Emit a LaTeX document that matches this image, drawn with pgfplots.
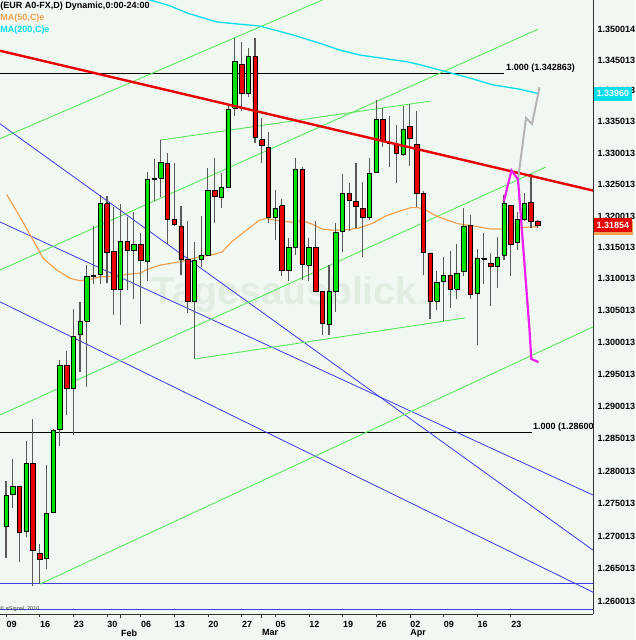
\documentclass[border=0pt]{standalone}
\usepackage{pgfplots}
\pgfplotsset{compat=1.18}
\usepackage{pgfplotstable}
\usepackage{fontspec}
\setmainfont{Liberation Sans}
\definecolor{bgc}{RGB}{241,248,241}
\definecolor{cgreen}{RGB}{0,225,0}
\definecolor{cred}{RGB}{232,0,0}
\definecolor{tgreen}{RGB}{90,232,90}
\definecolor{tblue}{RGB}{60,60,228}
\definecolor{macyan}{RGB}{0,222,236}
\definecolor{maorange}{RGB}{242,162,82}
\definecolor{magn}{RGB}{240,30,240}
\definecolor{projgrey}{RGB}{180,180,180}
\definecolor{wmark}{RGB}{226,237,226}
\pgfplotsset{
  wick/.style={black!65, line width=1.1pt},
  body/.style={draw=black, line width=0.5pt},
}
\pgfplotstableread{
j O H L C
0 1.2715 1.2785 1.2667 1.2763
1 1.2764 1.2818 1.2743 1.2777
2 1.2776 1.2777 1.2661 1.2706
3 1.2708 1.2846 1.2699 1.2812
4 1.2812 1.2880 1.2624 1.2679
5 1.2673 1.2688 1.2627 1.2665
6 1.2666 1.2809 1.2650 1.2735
7 1.2736 1.2866 1.2736 1.2863
8 1.2864 1.2973 1.2839 1.2965
9 1.2965 1.2986 1.2887 1.2928
10 1.2928 1.3052 1.2856 1.3010
11 1.3013 1.3064 1.2954 1.3033
12 1.3034 1.3122 1.2931 1.3105
13 1.3105 1.3184 1.3092 1.3106
14 1.3108 1.3233 1.3092 1.3219
15 1.3219 1.3232 1.3093 1.3143
16 1.3144 1.3214 1.3043 1.3084
17 1.3084 1.3219 1.3027 1.3159
18 1.3159 1.3198 1.3083 1.3145
19 1.3145 1.3205 1.3068 1.3155
20 1.3155 1.3172 1.3029 1.3130
21 1.3128 1.3270 1.3097 1.3259
22 1.3259 1.3290 1.3223 1.3260
23 1.3260 1.3321 1.3230 1.3285
24 1.3284 1.3300 1.3156 1.3194
25 1.3194 1.3285 1.3184 1.3187
26 1.3184 1.3216 1.3106 1.3131
27 1.3131 1.3191 1.3046 1.3065
28 1.3065 1.3159 1.2974 1.3130
29 1.3132 1.3199 1.3119 1.3138
30 1.3138 1.3277 1.3136 1.3240
31 1.3240 1.3292 1.3189 1.3231
32 1.3230 1.3268 1.3213 1.3246
33 1.3246 1.3376 1.3244 1.3371
34 1.3372 1.3486 1.3359 1.3449
35 1.3443 1.3480 1.3368 1.3397
36 1.3397 1.3470 1.3391 1.3457
37 1.3456 1.3485 1.3316 1.3325
38 1.3322 1.3356 1.3284 1.3312
39 1.3310 1.3334 1.3188 1.3197
40 1.3197 1.3241 1.3162 1.3212
41 1.3216 1.3227 1.3104 1.3113
42 1.3113 1.3164 1.3097 1.3149
43 1.3149 1.3292 1.3138 1.3275
44 1.3275 1.3278 1.3098 1.3123
45 1.3122 1.3164 1.3096 1.3149
46 1.3149 1.3191 1.3080 1.3081
47 1.3080 1.3081 1.3012 1.3030
48 1.3029 1.3122 1.3012 1.3081
49 1.3080 1.3188 1.3048 1.3173
50 1.3175 1.3266 1.3143 1.3236
51 1.3236 1.3252 1.3175 1.3224
52 1.3223 1.3285 1.3180 1.3215
53 1.3212 1.3254 1.3135 1.3198
54 1.3198 1.3293 1.3193 1.3268
55 1.3270 1.3386 1.3269 1.3355
56 1.3355 1.3373 1.3310 1.3320
57 1.3318 1.3359 1.3278 1.3315
58 1.3314 1.3345 1.3253 1.3300
59 1.3299 1.3376 1.3295 1.3338
60 1.3343 1.3379 1.3280 1.3324
61 1.3314 1.3368 1.3215 1.3236
62 1.3236 1.3239 1.3107 1.3142
63 1.3141 1.3141 1.3036 1.3064
64 1.3065 1.3113 1.3051 1.3095
65 1.3096 1.3134 1.3034 1.3106
66 1.3106 1.3145 1.3055 1.3084
67 1.3084 1.3156 1.3068 1.3109
68 1.3112 1.3212 1.3104 1.3184
69 1.3185 1.3201 1.3069 1.3076
70 1.3077 1.3147 1.2996 1.3133
71 1.3132 1.3172 1.3092 1.3133
72 1.3125 1.3141 1.3058 1.3121
73 1.3121 1.3167 1.3085 1.3135
74 1.3137 1.3233 1.3130 1.3220
75 1.3217 1.3217 1.3105 1.3155
76 1.3158 1.3207 1.3146 1.3194
77 1.3194 1.3236 1.3192 1.3220
78 1.3222 1.3266 1.3180 1.3192
79 1.3192 1.3193 1.3180 1.31854
}\candles
\begin{document}
\begin{tikzpicture}
\path[use as bounding box] (0,-26pt) rectangle (635pt,614pt);
\fill[bgc] (0,-26pt) rectangle (635pt,614pt);
\begin{axis}[
  scale only axis, width=593pt, height=614pt,
  xmin=-0.892, xmax=87.22,
  ymode=log, ymin=1.25815, ymax=1.35479,
  axis x line=bottom, axis y line=right,
  axis line style={-, black!80, line width=0.8pt},
  tick align=outside, major tick length=3pt,
  xtick={0,5,10,15,20,25,30,35,40,45,50,55,60,65,70,75},
  xticklabels={09,16,23,30,06,13,20,27,05,12,19,26,02,09,16,23},
  extra x ticks={17.04,38.0,60.0},
  extra x tick labels={Feb,Mar,Apr},
  extra x tick style={major tick length=5pt, xticklabel style={yshift=-7pt}},
  xtick style={draw=black!80, line width=0.6pt},
  xticklabel style={font=\bfseries\fontsize{9}{9}\selectfont, anchor=north west, inner sep=0pt, xshift=0.3pt, yshift=-4pt},
  ytick={1.350014,1.345013,1.340013,1.335013,1.330013,1.325013,1.320013,1.315013,1.310013,1.305013,1.300013,1.295013,1.290013,1.285013,1.280013,1.275013,1.270013,1.265013,1.260013},
  yticklabels={1.350014,1.345013,1.340013,1.335013,1.330013,1.325013,1.320013,1.315013,1.310013,1.305013,1.300013,1.295013,1.290013,1.285013,1.280013,1.275013,1.270013,1.265013,1.260013},
  minor y tick num=0,
  ytick style={draw=none},
  yticklabel style={font=\bfseries\fontsize{9}{9}\selectfont, anchor=west, inner sep=0pt, xshift=1.5pt},
  clip=true,
]
% watermark
\node[anchor=base west, inner sep=0pt, text=wmark, font=\bfseries\fontsize{39}{39}\selectfont] at (axis cs:21.55,1.3059) {Tagesausblick{\fontsize{8}{8}\selectfont .de}};
% horizontal lines
\addplot[black, line width=0.8pt] coordinates {(-0.892,1.342863) (74.0,1.342863)};
\addplot[black, line width=0.8pt] coordinates {(-0.892,1.2860) (78.16,1.2860)};
\addplot[tblue, line width=0.9pt] coordinates {(-0.892,1.26282) (87.22,1.26282)};
\addplot[tblue, line width=0.9pt] coordinates {(-0.892,1.25886) (87.22,1.25886)};
% blue trend lines
\addplot[tblue, line width=0.8pt] coordinates {(-0.892,1.33470) (87.22,1.26789)};
\addplot[tblue, line width=0.8pt] coordinates {(-0.892,1.31902) (87.22,1.27632)};
\addplot[tblue, line width=0.8pt] coordinates {(-0.892,1.30637) (87.22,1.26148)};
% green trend lines
\addplot[tgreen, line width=0.9pt] coordinates {(-0.892,1.33228) (49.6,1.35601)};
\addplot[tgreen, line width=0.9pt] coordinates {(-0.892,1.31142) (79.05,1.3500)};
\addplot[tgreen, line width=0.9pt] coordinates {(-0.892,1.28869) (80.24,1.32780)};
\addplot[tgreen, line width=0.9pt] coordinates {(5.05,1.26270) (87.22,1.30243)};
\addplot[tgreen, line width=0.9pt] coordinates {(28.08,1.29742) (68.2,1.30384)};
\addplot[tgreen, line width=0.9pt] coordinates {(23.03,1.33212) (63.0,1.33840)};
% moving averages
\addplot[macyan, line width=1.3pt] coordinates {(16.9,1.35577) (21.4,1.35479) (24.4,1.35381) (26.9,1.35267) (31.35,1.35120) (37.7,1.35055) (42.6,1.34909) (46.7,1.34774) (49.6,1.34665) (52.6,1.34584) (55.6,1.34530) (59.6,1.34475) (61.5,1.34422) (65.5,1.34314) (68.5,1.34223) (72.4,1.34099) (76.4,1.34030) (79.1,1.33960)};
\addplot[maorange, line width=1.2pt] coordinates {(0.1,1.3234) (2.08,1.3198) (3.57,1.3170) (5.5,1.3133) (7.53,1.3114) (9.51,1.3101) (11.0,1.3097) (12.48,1.3099) (13.97,1.3103) (15.9,1.3104) (16.94,1.3106) (19.91,1.3109) (20.95,1.3115) (22.88,1.3122) (25.85,1.3127) (28.83,1.3135) (30.6,1.3138) (32.1,1.3143) (33.58,1.3159) (35.5,1.3175) (37.6,1.3193) (38.6,1.3196) (40.6,1.3192) (42.5,1.3190) (43.98,1.3192) (45.47,1.3187) (46.95,1.3179) (48.6,1.3177) (50.4,1.3178) (52.3,1.3180) (54.4,1.3188) (56.3,1.3199) (58.25,1.3207) (60.2,1.3213) (61.2,1.3213) (62.1,1.3211) (64.04,1.3199) (67.0,1.3188) (70.0,1.3183) (72.07,1.3179) (75.04,1.3179) (77.0,1.3182) (79.05,1.3183)};
% candles
\pgfplotsforeachungrouped \i in {0,...,79}{%
  \pgfplotstablegetelem{\i}{j}\of\candles \let\cj\pgfplotsretval
  \pgfplotstablegetelem{\i}{O}\of\candles \let\co\pgfplotsretval
  \pgfplotstablegetelem{\i}{H}\of\candles \let\ch\pgfplotsretval
  \pgfplotstablegetelem{\i}{L}\of\candles \let\cl\pgfplotsretval
  \pgfplotstablegetelem{\i}{C}\of\candles \let\cc\pgfplotsretval
  \pgfmathsetmacro\xa{\cj-0.33}%
  \pgfmathsetmacro\xb{\cj+0.33}%
  \ifdim\cc pt<\co pt \def\bcol{cred}\else\def\bcol{cgreen}\fi
  \edef\temp{%
    \noexpand\addplot[wick] coordinates {(\cj,\cl) (\cj,\ch)};
    \noexpand\addplot[body, fill=\bcol] coordinates {(\xa,\co) (\xb,\co) (\xb,\cc) (\xa,\cc) (\xa,\co)};
  }\temp
}
% red resistance line
\addplot[cred, line width=2.4pt] coordinates {(-0.892,1.34655) (87.22,1.32402)};
% projections
\addplot[projgrey, line width=2pt] coordinates {(76.08,1.32580) (77.27,1.33566) (78.16,1.33470) (79.27,1.34057)};
\addplot[magn, line width=2.2pt] coordinates {(74.0,1.32237) (75.11,1.32721) (76.08,1.32580) (77.79,1.30196) (78.05,1.29742) (79.12,1.29695)};
% texts
\node[anchor=west, inner sep=0pt, font=\bfseries\fontsize{9}{9}\selectfont] at (axis cs:74.3,1.342863) [yshift=5pt] {1.000 (1.342863)};
\node[anchor=west, inner sep=0pt, font=\bfseries\fontsize{9}{9}\selectfont] at (axis cs:78.3,1.2860) [yshift=5.5pt] {1.000 (1.286003)};
\node[anchor=north west, inner sep=0pt, align=left, font=\bfseries\fontsize{9}{12}\selectfont] at (rel axis cs:0,1) [xshift=0.3pt, yshift=-2pt] {(EUR A0-FX,D) Dynamic,0:00-24:00\\\textcolor{maorange}{MA(50,C)e}\\\textcolor{macyan}{MA(200,C)e}};
\node[anchor=west, inner sep=0pt, text=black!75, font=\fontsize{5.5}{5.5}\selectfont] at (rel axis cs:0,0) [yshift=5pt] {\textcopyright{} eSignal, 2010};
\coordinate (cyanpt) at (axis cs:87.22,1.33960);
\coordinate (redpt) at (axis cs:87.22,1.31854);
\coordinate (orpt) at (axis cs:87.22,1.3180);
\end{axis}
\fill[maorange] ([xshift=1pt, yshift=-7pt]orpt) rectangle ([xshift=40pt, yshift=7pt]orpt);
\node[anchor=west, fill=cred, text=white, inner xsep=2.5pt, inner ysep=0pt, minimum height=14pt, font=\bfseries\fontsize{9}{9}\selectfont] at ([xshift=1pt]redpt) {1.31854};
\node[anchor=west, fill=macyan, text=white, inner xsep=2.5pt, inner ysep=0pt, minimum height=14pt, font=\bfseries\fontsize{9}{9}\selectfont] at ([xshift=1pt]cyanpt) {1.33960};
\end{tikzpicture}
\end{document}
